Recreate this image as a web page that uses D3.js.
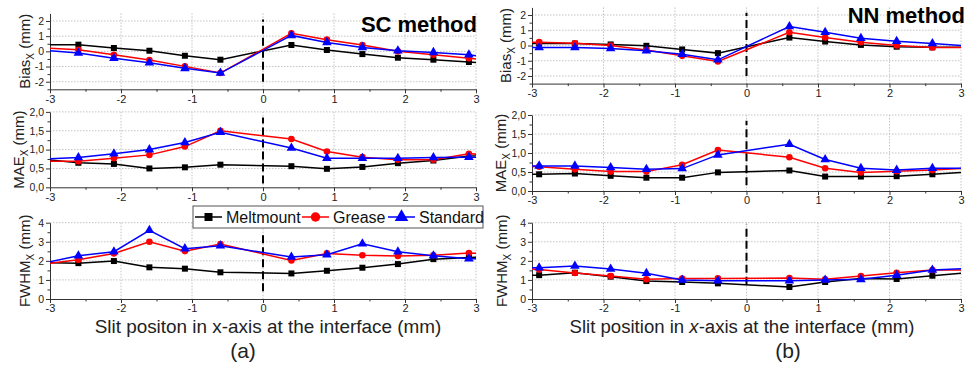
<!DOCTYPE html>
<html>
<head>
<meta charset="utf-8">
<script src="https://cdn.jsdelivr.net/npm/d3@7"></script>
<style>
  body { margin: 0; background: #fff; }
  svg { font-family: "Liberation Sans", Arial, sans-serif; }
  .axis path, .axis line { stroke: #333; }
  .axis text { font-size: 11px; fill: #222; font-family: "Liberation Sans", Arial, sans-serif; }
  .axis.yaxis text { font-size: 10.5px; }
</style>
</head>
<body>
<div id="chart"></div>
<script>
// x positions (the first and last points fall outside the visible -3..3 range)
const xLeft = [-3.1, -2.6, -2.1, -1.6, -1.1, -0.6, 0.4, 0.9, 1.4, 1.9, 2.4, 2.9, 3.4];
const xRight = [-3.4, -2.9, -2.4, -1.9, -1.4, -0.9, -0.4, 0.6, 1.1, 1.6, 2.1, 2.6, 3.1];

const seriesNames = ['Meltmount', 'Grease', 'Standard'];
const seriesColors = ['#000000', '#ff0000', '#0000ff'];
const seriesShapes = [d3.symbolSquare, d3.symbolCircle, d3.symbolTriangle];

// (a) SC method
const scBiasMelt = [0.44, 0.44, 0.22, 0.04, -0.29, -0.55, 0.42, 0.09, -0.18, -0.42, -0.55, -0.7, -0.85];
const scBiasGrease = [0.22, 0.11, -0.22, -0.57, -0.99, -1.43, 1.19, 0.77, 0.42, 0, -0.22, -0.46, -0.66];
const scBiasStd = [0.08, -0.11, -0.46, -0.75, -1.12, -1.43, 1.05, 0.59, 0.26, 0.04, -0.07, -0.22, -0.57];
const scMaeMelt = [0.74, 0.65, 0.62, 0.5, 0.53, 0.6, 0.56, 0.49, 0.54, 0.64, 0.71, 0.83, 0.88];
const scMaeGrease = [0.69, 0.69, 0.77, 0.86, 1.08, 1.5, 1.28, 0.95, 0.8, 0.73, 0.73, 0.89, 0.84];
const scMaeStd = [0.75, 0.79, 0.89, 1.0, 1.19, 1.46, 1.04, 0.77, 0.77, 0.77, 0.79, 0.8, 0.8];
const scFwhmMelt = [1.9, 1.88, 1.99, 1.66, 1.59, 1.4, 1.34, 1.48, 1.64, 1.83, 2.09, 2.18, 2.2];
const scFwhmGrease = [1.82, 2.06, 2.39, 3.0, 2.51, 2.88, 2.02, 2.39, 2.29, 2.25, 2.29, 2.41, 2.36];
const scFwhmStd = [1.87, 2.27, 2.48, 3.6, 2.64, 2.79, 2.2, 2.32, 2.9, 2.48, 2.27, 2.11, 2.11];

// (b) NN method
const nnBiasMelt = [0.13, 0.13, 0.13, 0.07, -0.02, -0.26, -0.5, 0.52, 0.26, 0.04, -0.08, -0.12, -0.12];
const nnBiasGrease = [0.22, 0.22, 0.15, 0, -0.3, -0.68, -1.05, 0.87, 0.52, 0.22, 0, -0.13, -0.13];
const nnBiasStd = [-0.13, -0.13, -0.13, -0.2, -0.35, -0.57, -0.94, 1.25, 0.87, 0.48, 0.28, 0.13, -0.03];
const nnMaeMelt = [0.44, 0.44, 0.46, 0.4, 0.35, 0.35, 0.49, 0.54, 0.38, 0.38, 0.39, 0.44, 0.5];
const nnMaeGrease = [0.65, 0.64, 0.57, 0.51, 0.51, 0.69, 1.08, 0.89, 0.6, 0.49, 0.52, 0.55, 0.6];
const nnMaeStd = [0.66, 0.66, 0.66, 0.62, 0.57, 0.59, 0.95, 1.23, 0.83, 0.6, 0.55, 0.6, 0.6];
const nnFwhmMelt = [1.24, 1.25, 1.38, 1.17, 0.94, 0.89, 0.82, 0.63, 0.89, 1.08, 1.05, 1.22, 1.38];
const nnFwhmGrease = [1.65, 1.55, 1.36, 1.2, 1.03, 1.07, 1.08, 1.1, 1.03, 1.2, 1.38, 1.52, 1.52];
const nnFwhmStd = [1.6, 1.64, 1.73, 1.57, 1.35, 1.0, 0.96, 0.96, 1.0, 1.03, 1.24, 1.52, 1.6];

const xTicks = [-3, -2, -1, 0, 1, 2, 3];
const biasTicks = [-2, -1, 0, 1, 2];
const maeTicks = [0, 0.5, 1, 1.5, 2];
const fwhmTicks = [0, 1, 2, 3, 4];

const width = 967, height = 367;
const svg = d3.select('#chart').append('svg')
  .attr('width', width).attr('height', height);

const commaFmt = d => d3.format('.1f')(d).replace('.', ',').replace('−', '-');
const intFmt = d => String(d);

const panels = [
  {
    id: 'a', xs: xLeft, left: 50, right: 476, method: 'SC method',
    methodPos: [477, 32], labelX: 268, labelW: 347, letter: '(a)', letterX: 243,
    plots: [
      { name: 'Bias', domain: [-2.5, 2.5], top: 13.4, bottom: 89.3, ticks: biasTicks, fmt: intFmt,
        dash: [-2, 2.1], data: [scBiasMelt, scBiasGrease, scBiasStd], titleOff: 20 },
      { name: 'MAE', domain: [0, 2], top: 111.9, bottom: 187.3, ticks: maeTicks, fmt: commaFmt,
        dash: [0.1, 1.85], data: [scMaeMelt, scMaeGrease, scMaeStd], titleOff: 26 },
      { name: 'FWHM', domain: [0, 4], top: 222.7, bottom: 299, ticks: fwhmTicks, fmt: intFmt,
        dash: [0.4, 3.5], data: [scFwhmMelt, scFwhmGrease, scFwhmStd], titleOff: 20 }
    ]
  },
  {
    id: 'b', xs: xRight, left: 532, right: 961, method: 'NN method',
    methodPos: [965, 23], labelX: 742, labelW: 345, letter: '(b)', letterX: 788,
    plots: [
      { name: 'Bias', domain: [-2.5, 2.5], top: 7.4, bottom: 83.6, ticks: biasTicks, fmt: intFmt,
        dash: [-2, 2.15], data: [nnBiasMelt, nnBiasGrease, nnBiasStd], titleOff: 21 },
      { name: 'MAE', domain: [0, 2], top: 115, bottom: 191, ticks: maeTicks, fmt: commaFmt,
        dash: [0.15, 1.85], data: [nnMaeMelt, nnMaeGrease, nnMaeStd], titleOff: 26 },
      { name: 'FWHM', domain: [0, 4], top: 222.7, bottom: 299, ticks: fwhmTicks, fmt: intFmt,
        dash: [0.75, 3.9], data: [nnFwhmMelt, nnFwhmGrease, nnFwhmStd], titleOff: 25 }
    ]
  }
];

panels.forEach(panel => {
  const x = d3.scaleLinear().domain([-3, 3]).range([panel.left, panel.right]);
  const g = svg.append('g');

  panel.plots.forEach((p, pi) => {
    const y = d3.scaleLinear().domain(p.domain).range([p.bottom, p.top]);
    const clipId = `clip-${panel.id}-${pi}`;
    svg.append('clipPath').attr('id', clipId)
      .append('rect')
      .attr('x', panel.left).attr('y', p.top - 6)
      .attr('width', panel.right - panel.left).attr('height', p.bottom - p.top + 6);

    // grid
    g.append('g').selectAll('line')
      .data(xTicks.filter(t => t !== -3))
      .enter().append('line')
      .attr('x1', d => x(d)).attr('x2', d => x(d))
      .attr('y1', p.top).attr('y2', p.bottom)
      .attr('stroke', '#c4c4c4').attr('stroke-dasharray', '1.5,1.5');
    g.append('g').selectAll('line')
      .data(p.ticks.filter(t => t !== p.domain[0]))
      .enter().append('line')
      .attr('x1', panel.left).attr('x2', panel.right)
      .attr('y1', d => y(d)).attr('y2', d => y(d))
      .attr('stroke', '#c4c4c4').attr('stroke-dasharray', '1.5,1.5');

    // axes
    const minorX = d3.range(-2.5, 3, 1);
    g.append('g').attr('class', 'axis')
      .attr('transform', `translate(0,${p.bottom})`)
      .call(d3.axisBottom(x).tickValues(minorX).tickSize(2.5).tickFormat(''))
      .call(s => s.select('.domain').remove());
    g.append('g').attr('class', 'axis')
      .attr('transform', `translate(0,${p.bottom})`)
      .call(d3.axisBottom(x).tickValues(xTicks).tickSize(4).tickSizeOuter(0).tickFormat(intFmt).tickPadding(1.5));

    const step = p.ticks[1] - p.ticks[0];
    const minorY = d3.range(p.domain[0] + (p.domain[0] === -2.5 ? 0 : step / 2), p.domain[1], step)
      .filter(v => !p.ticks.includes(v));
    g.append('g').attr('class', 'axis yaxis')
      .attr('transform', `translate(${panel.left},0)`)
      .call(d3.axisLeft(y).tickValues(minorY).tickSize(2.5).tickFormat(''))
      .call(s => s.select('.domain').remove());
    g.append('g').attr('class', 'axis yaxis')
      .attr('transform', `translate(${panel.left},0)`)
      .call(d3.axisLeft(y).tickValues(p.ticks).tickSize(4).tickSizeOuter(0).tickFormat(p.fmt).tickPadding(2));

    // y title
    const t = g.append('text')
      .attr('transform', `translate(${panel.left - p.titleOff},${(p.top + p.bottom) / 2}) rotate(-90)`)
      .attr('text-anchor', 'middle')
      .style('font-size', '15px').attr('fill', '#222');
    t.append('tspan').text(p.name);
    t.append('tspan').text('X').style('font-size', '10px').attr('dy', 3.5);
    t.append('tspan').text(' (mm)').attr('dy', -3.5);

    // dashed interface line
    g.append('line')
      .attr('x1', x(0)).attr('x2', x(0))
      .attr('y1', y(p.dash[0])).attr('y2', y(p.dash[1]))
      .attr('stroke', '#000').attr('stroke-width', 2)
      .attr('stroke-dasharray', '8,4');

    // series
    p.data.forEach((vals, si) => {
      const pts = panel.xs.map((xv, i) => ({ x: xv, y: vals[i] }));
      const line = d3.line().x(d => x(d.x)).y(d => y(d.y));
      g.append('path')
        .datum(pts)
        .attr('clip-path', `url(#${clipId})`)
        .attr('d', line)
        .attr('fill', 'none')
        .attr('stroke', seriesColors[si])
        .attr('stroke-width', 1.5);
      const sizes = [36, 34, 40];
      g.append('g').selectAll('path')
        .data(pts.filter(d => d.x >= -3 && d.x <= 3))
        .enter().append('path')
        .attr('transform', d => `translate(${x(d.x)},${y(d.y)})`)
        .attr('d', d3.symbol().type(seriesShapes[si]).size(sizes[si]))
        .attr('fill', seriesColors[si]);
    });
  });

  // method title
  svg.append('text')
    .attr('x', panel.methodPos[0]).attr('y', panel.methodPos[1])
    .attr('text-anchor', 'end')
    .style('font-size', '22px').style('font-weight', 'bold')
    .text(panel.method);

  // x title
  const xt = svg.append('text')
    .attr('x', panel.labelX).attr('y', 333)
    .attr('text-anchor', 'middle')
    .style('font-size', '20px').attr('fill', '#222');
  if (panel.id === 'a') {
    xt.text('Slit positon in x-axis at the interface (mm)');
  } else {
    xt.append('tspan').text('Slit position in ');
    xt.append('tspan').text('x').style('font-style', 'italic');
    xt.append('tspan').text('-axis at the interface (mm)');
  }
  // fit the title to the width seen in the reference
  const w = xt.node().getComputedTextLength();
  xt.style('font-size', (20 * panel.labelW / w).toFixed(2) + 'px');

  svg.append('text')
    .attr('x', panel.letterX).attr('y', 358)
    .attr('text-anchor', 'middle')
    .style('font-size', '21px').attr('fill', '#222')
    .text(panel.letter);
});

// legend
const legend = svg.append('g');
legend.append('rect')
  .attr('x', 193).attr('y', 206)
  .attr('width', 290).attr('height', 22)
  .attr('fill', '#fff').attr('stroke', '#555');
const legendX = [195, 302, 388];
seriesNames.forEach((name, i) => {
  const lg = legend.append('g').attr('transform', `translate(${legendX[i]},217)`);
  lg.append('line').attr('x1', 0).attr('x2', 27)
    .attr('stroke', seriesColors[i]).attr('stroke-width', 1.5);
  lg.append('path')
    .attr('transform', 'translate(13.5,0)')
    .attr('d', d3.symbol().type(seriesShapes[i]).size([64, 70, 80][i]))
    .attr('fill', seriesColors[i]);
  lg.append('text')
    .attr('x', 31).attr('y', 5.5)
    .style('font-size', '16px').attr('fill', '#111')
    .text(name);
});
</script>
</body>
</html>
